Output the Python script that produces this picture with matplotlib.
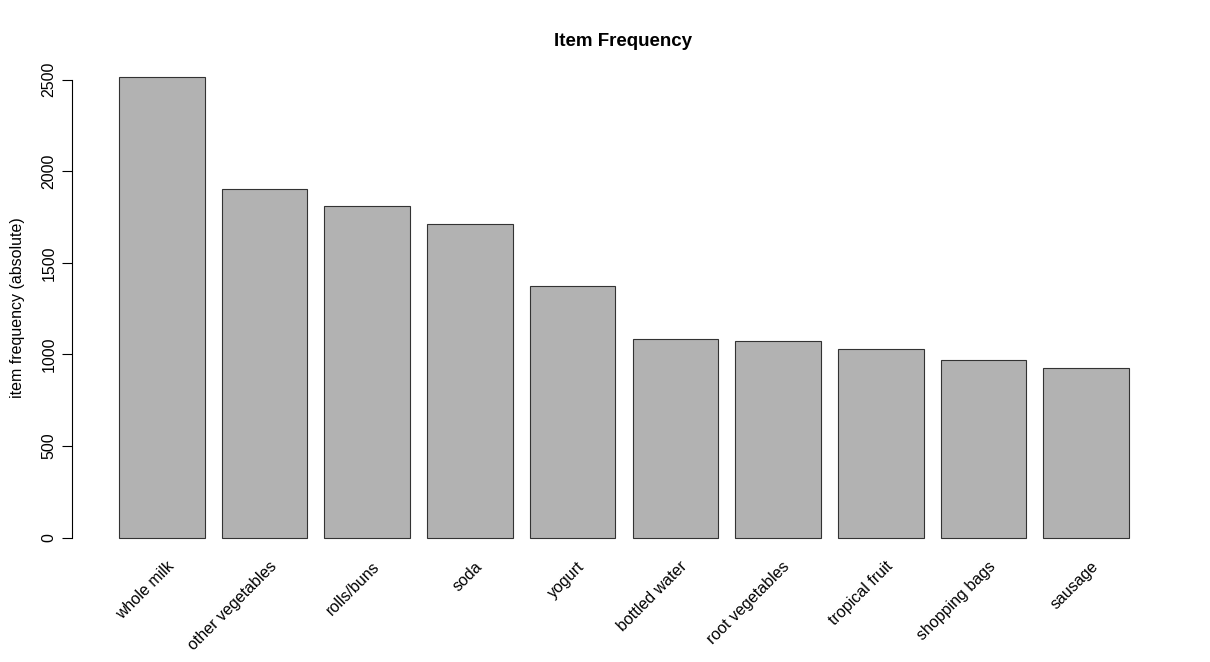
import matplotlib
matplotlib.use("Agg")
import matplotlib.pyplot as plt

plt.rcParams["font.family"] = ["Liberation Sans", "DejaVu Sans"]

items = ["whole milk", "other vegetables", "rolls/buns", "soda", "yogurt",
         "bottled water", "root vegetables", "tropical fruit", "shopping bags", "sausage"]
counts = [2513, 1903, 1809, 1715, 1372, 1087, 1072, 1032, 969, 924]
yticks = [0, 500, 1000, 1500, 2000, 2500]

W, H = 1210, 662
fig = plt.figure(figsize=(W / 100, H / 100), dpi=100)
ax = fig.add_axes([72 / W, (H - 556) / H, (1170 - 72) / W, (556 - 59) / H])

lefts = [0.2 + 1.2 * i for i in range(len(items))]
ax.bar(lefts, counts, width=1.0, align="edge", color="#b2b2b2",
       edgecolor="#333333", linewidth=0.8)
ax.set_xlim(-0.349, 12.48)
ax.set_ylim(-100.5, 2613.5)

for s in ["top", "right", "bottom"]:
    ax.spines[s].set_visible(False)
ax.spines["left"].set_bounds(0, 2500)
ax.spines["left"].set_linewidth(0.8)
ax.set_yticks(yticks)
ax.set_yticklabels([str(v) for v in yticks], rotation=90, va="center", fontsize=11.5)
ax.tick_params(axis="y", length=7, width=0.8, pad=4)

ax.set_xticks([l + 0.55 for l in lefts])
ax.set_xticklabels(items, rotation=45, ha="right", va="top",
                   rotation_mode="anchor", fontsize=11.5)
ax.tick_params(axis="x", length=0, pad=2)

ax.set_ylabel("item frequency (absolute)", fontsize=11.5, labelpad=12)
fig.text(623 / W, 1 - 41 / H, "Item Frequency", ha="center", va="center",
         fontsize=13.5, fontweight="bold")

fig.savefig("out.png", dpi=100)
